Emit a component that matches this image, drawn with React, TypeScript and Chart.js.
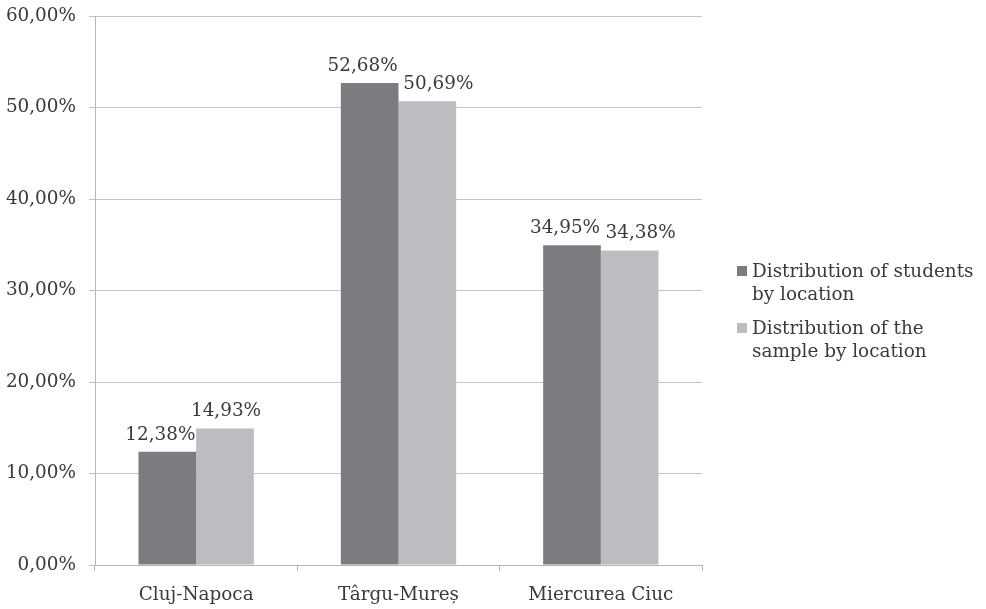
import React, { useEffect, useRef } from "react";
import { Chart, registerables } from "chart.js";

Chart.register(...registerables);

const categories = ["Cluj-Napoca", "Târgu-Mureș", "Miercurea Ciuc"];
const studentsByLocation = [12.38, 52.68, 34.95];
const sampleByLocation = [14.93, 50.69, 34.38];
const seriesNames = [
  ["Distribution of students", "by location"],
  ["Distribution of the", "sample by location"],
];
const seriesColors = ["#7b7c80", "#bcbdc1"];

const FONT = "'DejaVu Serif', 'Liberation Serif', serif";
const TEXT = "#3a3a3a";
const SIZE = 18.4;

const fmt = (v: number) => v.toFixed(2).replace(".", ",") + "%";

// Value labels above each bar; neighbouring labels at similar heights are pushed apart.
const valueLabels = {
  id: "valueLabels",
  afterDatasetsDraw(chart: any) {
    const ctx = chart.ctx;
    ctx.save();
    ctx.font = `${SIZE}px ${FONT}`;
    ctx.fillStyle = TEXT;
    ctx.textAlign = "center";
    ctx.textBaseline = "alphabetic";
    const d0 = chart.getDatasetMeta(0).data;
    const d1 = chart.getDatasetMeta(1).data;
    const v0 = chart.data.datasets[0].data as number[];
    const v1 = chart.data.datasets[1].data as number[];
    for (let i = 0; i < v0.length; i++) {
      const close = Math.abs(v0[i] - v1[i]) < 2.5;
      const a = d0[i];
      const b = d1[i];
      ctx.fillText(fmt(v0[i]), a.x - 7, a.y - 12);
      ctx.fillText(fmt(v1[i]), b.x + (close ? 11 : 1), b.y - 12);
    }
    ctx.restore();
  },
};

// Legend on the right with wrapped two-line entries.
const sideLegend = {
  id: "sideLegend",
  afterDraw(chart: any) {
    const ctx = chart.ctx;
    ctx.save();
    ctx.font = `${SIZE}px ${FONT}`;
    ctx.textBaseline = "alphabetic";
    ctx.textAlign = "left";
    const x = chart.chartArea.right + 35;
    const starts = [277, 334];
    chart.data.datasets.forEach((ds: any, i: number) => {
      const y = starts[i];
      ctx.fillStyle = ds.backgroundColor;
      ctx.fillRect(x, y - 11, 10, 10);
      ctx.fillStyle = TEXT;
      seriesNames[i].forEach((line, j) => ctx.fillText(line, x + 15, y + j * 23));
    });
    ctx.restore();
  },
};

export default function App() {
  const ref = useRef<HTMLCanvasElement | null>(null);
  useEffect(() => {
    if (!ref.current) return;
    const chart = new Chart(ref.current, {
      type: "bar",
      data: {
        labels: categories,
        datasets: [
          {
            label: seriesNames[0].join(" "),
            data: studentsByLocation,
            backgroundColor: seriesColors[0],
            categoryPercentage: 0.57,
            barPercentage: 1,
          },
          {
            label: seriesNames[1].join(" "),
            data: sampleByLocation,
            backgroundColor: seriesColors[1],
            categoryPercentage: 0.57,
            barPercentage: 1,
          },
        ],
      },
      options: {
        animation: false,
        responsive: false,
        layout: { padding: { top: 16, right: 284, bottom: 0, left: 0 } },
        plugins: { legend: { display: false }, tooltip: { enabled: false } },
        scales: {
          x: {
            grid: {
              offset: true,
              drawOnChartArea: false,
              drawTicks: true,
              tickLength: 6,
              color: "#b5b5b5",
            },
            border: { color: "#b5b5b5" },
            ticks: { color: TEXT, font: { family: FONT, size: SIZE }, padding: 13 },
            afterFit: (s: any) => {
              s.height = 44;
              s.paddingLeft = 0;
              s.paddingRight = 0;
            },
          },
          y: {
            min: 0,
            max: 60,
            ticks: {
              stepSize: 10,
              color: TEXT,
              font: { family: FONT, size: SIZE },
              padding: 13,
              callback: (v: any) => fmt(Number(v)),
            },
            grid: { color: "#c4c4c4", tickLength: 6 },
            border: { color: "#b5b5b5" },
            afterFit: (s: any) => {
              s.width = 95;
              s.paddingTop = 0;
              s.paddingBottom = 0;
            },
          },
        },
      },
      plugins: [valueLabels, sideLegend],
    });
    return () => chart.destroy();
  }, []);
  return (
    <div style={{ position: "absolute", left: 0, top: 0, width: 986, height: 609, background: "#fff" }}>
      <canvas ref={ref} width={986} height={609} />
    </div>
  );
}
